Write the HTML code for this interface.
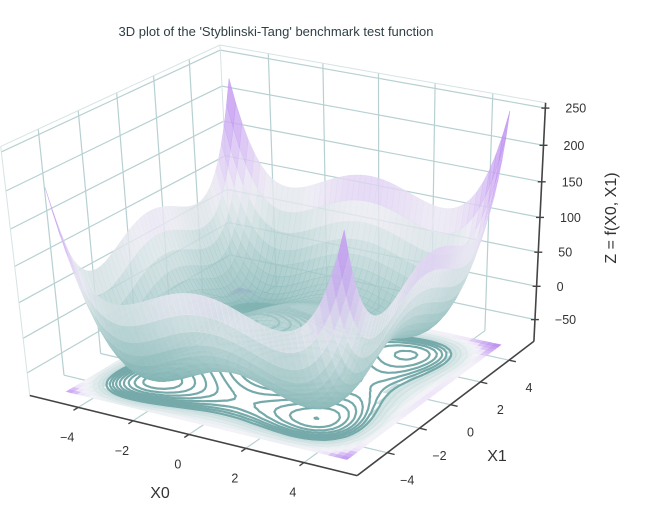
<!DOCTYPE html>
<html><head><meta charset="utf-8">
<style>
html,body{margin:0;padding:0;background:#fff;}
svg{display:block;font-family:"Liberation Sans","DejaVu Sans",sans-serif;}
</style></head>
<body>
<svg id="chart" width="652" height="510" viewBox="0 0 652 510" xmlns="http://www.w3.org/2000/svg">
<text x="276" y="36" font-size="13" fill="#2f3f44" text-anchor="middle">3D plot of the 'Styblinski-Tang' benchmark test function</text>
<g id="panes"></g>
<g id="floor"></g>
<g id="surface"></g>
<g id="axes"></g>
<text x="160" y="498" font-size="16" fill="#333" text-anchor="middle">X0</text>
<text x="497" y="461" font-size="16" fill="#333" text-anchor="middle">X1</text>
<text transform="translate(616,218) rotate(-90)" font-size="16" fill="#333" text-anchor="middle">Z = f(X0, X1)</text>
</svg>
<script>
// ---- data ----
const gridX0 = []; for (let i = 0; i <= 48; i++) gridX0.push(-5 + 10 * i / 48);
const gridX1 = []; for (let i = 0; i <= 48; i++) gridX1.push(-5 + 10 * i / 48);
const xTicks = [-4, -2, 0, 2, 4];
const yTicks = [-4, -2, 0, 2, 4];
const zTicks = [-50, 0, 50, 100, 150, 200, 250];
const contourLevels = [-72, -64, -56, -48, -40, -32, -24, -16, -6, 6, 20, 40];
function stybTang(x, y) { return (x**4 - 16*x*x + 5*x)/2 + (y**4 - 16*y*y + 5*y)/2; }

// ---- projection (fitted perspective camera) ----
const NS = 'http://www.w3.org/2000/svg';
const XL = 5.8, YL = 5.8, zmin = -83, zmax = 257;
const nrm = (x,y,z)=>[x/XL, y/YL, (z-(zmin+zmax)/2)/((zmax-zmin)/2)];
const corr = [
  [[XL,-YL,zmin],[357,475]], [[-XL,-YL,zmin],[30,395]], [[XL,YL,zmin],[533,342]],
  [[XL,YL,250],[545,108]], [[XL,YL,-50],[535,319]], [[-XL,YL,zmax],[220,45]],
  [[-4,-YL,zmin],[78,408]], [[4,-YL,zmin],[304,463]], [[XL,-4,zmin],[387,453]],
  [[XL,4,zmin],[510,360]], [[XL,YL,zmax],[546,103]]
];
const rows=[], rhs=[];
corr.forEach(c=>{ const [X,Y,Zc]=nrm(...c[0]); const uu=c[1][0]/100, vv=c[1][1]/100;
  rows.push([X,Y,Zc,1,0,0,0,0,-uu*X,-uu*Y,-uu*Zc]); rhs.push(uu);
  rows.push([0,0,0,0,X,Y,Zc,1,-vv*X,-vv*Y,-vv*Zc]); rhs.push(vv); });
const NN=11; const M=[];
for(let a=0;a<NN;a++){ M.push([]); for(let b=0;b<NN;b++){ let s=0; rows.forEach(r=>s+=r[a]*r[b]); M[a].push(s+(a===b?1e-9:0)); } let s=0; rows.forEach((r,k)=>s+=r[a]*rhs[k]); M[a].push(s); }
for(let c=0;c<NN;c++){ let p=c; for(let r=c+1;r<NN;r++) if(Math.abs(M[r][c])>Math.abs(M[p][c])) p=r; [M[c],M[p]]=[M[p],M[c]];
  for(let r=0;r<NN;r++){ if(r===c) continue; const f=M[r][c]/M[c][c]; for(let k=c;k<=NN;k++) M[r][k]-=f*M[c][k]; } }
const pv=M.map((r,i)=>r[NN]/r[i]);
const elev=25*Math.PI/180, azim=-60*Math.PI/180;
const vd=[Math.cos(elev)*Math.cos(azim), Math.cos(elev)*Math.sin(azim), Math.sin(elev)];
function P(x,y,z){ const [X,Y,Zc]=nrm(x,y,z);
  const wq=pv[8]*X+pv[9]*Y+pv[10]*Zc+1;
  const sx=(pv[0]*X+pv[1]*Y+pv[2]*Zc+pv[3])/wq*100, sy=(pv[4]*X+pv[5]*Y+pv[6]*Zc+pv[7])/wq*100;
  const depth=-(X*vd[0]*1.14+Y*vd[1]*1.14+Zc*vd[2]*0.86);
  return [sx,sy,depth]; }

// ---- helpers ----
function el(tag, attrs, parent){ const e=document.createElementNS(NS,tag); for(const k in attrs) e.setAttribute(k,attrs[k]); parent.appendChild(e); return e; }
function line(parent,p,q,col,wd){ return el('line',{x1:p[0].toFixed(1),y1:p[1].toFixed(1),x2:q[0].toFixed(1),y2:q[1].toFixed(1),stroke:col,'stroke-width':wd},parent); }
const stops=[[0,[122,175,175]],[0.22,[168,202,202]],[0.38,[212,225,228]],[0.48,[234,233,242]],[0.58,[224,208,244]],[0.75,[202,166,242]],[1,[178,126,238]]];
const vmin=-78.33, vmax=250;
function cmap(z){ let t=(z-vmin)/(vmax-vmin); t=Math.max(0,Math.min(1,t));
  for(let i=1;i<stops.length;i++){ if(t<=stops[i][0]){ const a=stops[i-1],b=stops[i]; const s=(t-a[0])/(b[0]-a[0]);
    return [0,1,2].map(k=>Math.round(a[1][k]+(b[1][k]-a[1][k])*s)); } } return stops[stops.length-1][1]; }
const rgb=c=>`rgb(${c[0]},${c[1]},${c[2]})`;

// ---- panes & grid ----
const panes=document.getElementById('panes'); const gc='#b7d0d1';
xTicks.forEach(t=>{ let g=line(panes,P(t,-YL,zmin),P(t,YL,zmin),gc,1.2);
   
  g=line(panes,P(t,YL,zmin),P(t,YL,zmax),gc,1.2);
    });
yTicks.forEach(t=>{ let g=line(panes,P(-XL,t,zmin),P(XL,t,zmin),gc,1.2);
   
  g=line(panes,P(-XL,t,zmin),P(-XL,t,zmax),gc,1.2);
    });
zTicks.forEach(t=>{ let g=line(panes,P(-XL,-YL,t),P(-XL,YL,t),gc,1.2);
   
  g=line(panes,P(-XL,YL,t),P(XL,YL,t),gc,1.2);
    });
[[P(-XL,-YL,zmax),P(-XL,YL,zmax)],[P(-XL,YL,zmax),P(XL,YL,zmax)],[P(-XL,YL,zmin),P(-XL,YL,zmax)],[P(-XL,-YL,zmin),P(-XL,-YL,zmax)],[P(XL,YL,zmin),P(XL,YL,zmax)]].forEach(s=>{
  const g=line(panes,s[0],s[1],'#d6e3e4',1);   });

// ---- floor ----
const floor=document.getElementById('floor');
const Z=gridX1.map(y=>gridX0.map(x=>stybTang(x,y)));
const n=gridX0.length;
for(let j=0;j<n-1;j++){
  for(let i=0;i<n-1;i++){
    const zc=(Z[j][i]+Z[j][i+1]+Z[j+1][i]+Z[j+1][i+1])/4;
    let col;
    if(zc<-10) col=[255,255,255];
    else { const c=cmap(zc); const m=zc>120?0.95:0.55; col=c.map(k=>Math.round(255+(k-255)*m)); }
    const pts=[P(gridX0[i],gridX1[j],zmin),P(gridX0[i+1],gridX1[j],zmin),P(gridX0[i+1],gridX1[j+1],zmin),P(gridX0[i],gridX1[j+1],zmin)];
    const pg=el('polygon',{points:pts.map(p=>p[0].toFixed(1)+','+p[1].toFixed(1)).join(' '),fill:rgb(col),stroke:rgb(col),'stroke-width':0.6},floor);
    
    
  }
}
function interp(a,b,L){ const t=(L-a[2])/(b[2]-a[2]); return [a[0]+(b[0]-a[0])*t,a[1]+(b[1]-a[1])*t]; }
contourLevels.forEach(L=>{
  let d='';
  for(let j=0;j<n-1;j++){
    for(let i=0;i<n-1;i++){
      const c=[[gridX0[i],gridX1[j],Z[j][i]],[gridX0[i+1],gridX1[j],Z[j][i+1]],[gridX0[i+1],gridX1[j+1],Z[j+1][i+1]],[gridX0[i],gridX1[j+1],Z[j+1][i]]];
      const pts=[];
      for(let k=0;k<4;k++){ const a=c[k],b=c[(k+1)%4]; if((a[2]<L)!==(b[2]<L)) pts.push(interp(a,b,L)); }
      for(let k=0;k+1<pts.length;k+=2){
        const p=P(pts[k][0],pts[k][1],zmin), q=P(pts[k+1][0],pts[k+1][1],zmin);
        d+='M'+p[0].toFixed(1)+','+p[1].toFixed(1)+'L'+q[0].toFixed(1)+','+q[1].toFixed(1);
      }
    }
  }
  const c=cmap(L); const col=L<0?[118,170,170]:c.map(k=>Math.round(255+(k-255)*0.7));
  const pa=el('path',{d:d||'M0,0',stroke:rgb(col),'stroke-width':L<0?2.2:1.4,fill:'none','stroke-linecap':'round'},floor);
  
  
});

// ---- surface ----
const surf=document.getElementById('surface');
const quads=[];
for(let j=0;j<n-1;j++){
  for(let i=0;i<n-1;i++){
    const pts=[P(gridX0[i],gridX1[j],Z[j][i]),P(gridX0[i+1],gridX1[j],Z[j][i+1]),P(gridX0[i+1],gridX1[j+1],Z[j+1][i+1]),P(gridX0[i],gridX1[j+1],Z[j+1][i])];
    const depth=(pts[0][2]+pts[1][2]+pts[2][2]+pts[3][2])/4;
    const zc=(Z[j][i]+Z[j][i+1]+Z[j+1][i]+Z[j+1][i+1])/4;
    quads.push({pts:pts,depth:depth,zc:zc});
  }
}
quads.sort((a,b)=>b.depth-a.depth);
quads.forEach(q=>{
  const col=rgb(cmap(q.zc));
  const pg=el('polygon',{points:q.pts.map(p=>p[0].toFixed(1)+','+p[1].toFixed(1)).join(' '),fill:col,stroke:col,'stroke-width':0.5,'fill-opacity':0.8,'stroke-opacity':0.8},surf);
  
  
});

// ---- axes ----
const axes=document.getElementById('axes'); const ac='#444';
let ax=line(axes,P(-XL,-YL,zmin),P(XL,-YL,zmin),ac,1.6);


ax=line(axes,P(XL,-YL,zmin),P(XL,YL,zmin),ac,1.6);


ax=line(axes,P(XL,YL,zmin),P(XL,YL,zmax),ac,1.6);


function lbl(x,y,txt,anchor,name){
  const t=el('text',{x:x.toFixed(1),y:y.toFixed(1),'font-size':12.5,fill:'#333','text-anchor':anchor},axes);
  t.textContent=txt;
  
  
}
const fmt=t=>t<0?'\u2212'+Math.abs(t):String(t);
xTicks.forEach(t=>{ const p=P(t,-YL,zmin), q=P(t,-YL-0.25,zmin); const tk=line(axes,p,q,ac,1.4);
  
  
  lbl(p[0]-11,p[1]+34,fmt(t),'middle','x-tick-label'); });
yTicks.forEach(t=>{ const p=P(XL,t,zmin), q=P(XL+0.25,t,zmin); const tk=line(axes,p,q,ac,1.4);
  
  
  lbl(p[0]+20,p[1]+32,fmt(t),'middle','y-tick-label'); });
zTicks.forEach(t=>{ const p=P(XL,YL,t); const tk=line(axes,[p[0]-4,p[1]],[p[0]+4,p[1]],ac,1.4);
  
  
  lbl(p[0]+20,p[1]+4.5,fmt(t),'start','z-tick-label'); });
</script>
</body></html>
